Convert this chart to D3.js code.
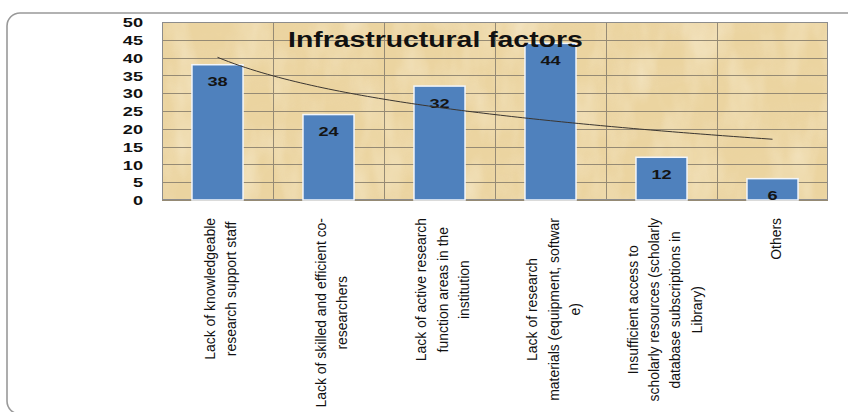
<!DOCTYPE html>
<html>
<head>
<meta charset="utf-8">
<script src="https://cdn.jsdelivr.net/npm/d3@7"></script>
<style>
  html, body { margin: 0; padding: 0; background: #ffffff; }
  svg { display: block; }
</style>
</head>
<body>
<div id="chart"></div>
<script>
// ---- data ----
const categoryLines = [
  ["Lack of knowledgeable", "research support staff"],
  ["Lack of skilled and efficient co-", "researchers"],
  ["Lack of active research", "function areas in the", "institution"],
  ["Lack of research", "materials (equipment, softwar", "e)"],
  ["Insufficient access to", "scholarly resources (scholarly", "database subscriptions in", "Library)"],
  ["Others"]
];
const values = [38, 24, 32, 44, 12, 6];
const yTickValues = [0, 5, 10, 15, 20, 25, 30, 35, 40, 45, 50];
const chartTitle = "Infrastructural factors";

// ---- layout ----
const W = 848, H = 412;
const plot = { left: 162, right: 828, top: 22, bottom: 200 };
const SX = 1.4;      // horizontal stretch of bold numbers
const TSX = 1.29;    // horizontal stretch of title

const svg = d3.select("#chart").append("svg")
  .attr("width", W).attr("height", H);

const defs = svg.append("defs");
const f1 = defs.append("filter").attr("id", "blotch")
  .attr("x", 0).attr("y", 0).attr("width", "100%").attr("height", "100%");
f1.append("feTurbulence").attr("type", "fractalNoise")
  .attr("baseFrequency", "0.012 0.045").attr("numOctaves", 4).attr("seed", 7);
f1.append("feColorMatrix").attr("type", "matrix")
  .attr("values", "0 0 0 0 0.84  0 0 0 0 0.68  0 0 0 0 0.42  0 0 0 1.3 -0.55");
const f2 = defs.append("filter").attr("id", "light")
  .attr("x", 0).attr("y", 0).attr("width", "100%").attr("height", "100%");
f2.append("feTurbulence").attr("type", "fractalNoise")
  .attr("baseFrequency", "0.035 0.015").attr("numOctaves", 3).attr("seed", 11);
f2.append("feColorMatrix").attr("type", "matrix")
  .attr("values", "0 0 0 0 0.98  0 0 0 0 0.93  0 0 0 0 0.80  0 0 0 1.4 -0.55");

// outer frame
svg.append("rect")
  .attr("x", 7).attr("y", 13).attr("width", 870).attr("height", 401)
  .attr("rx", 13).attr("ry", 13)
  .attr("fill", "none").attr("stroke", "#999999").attr("stroke-width", 1.6);

// scales
const x = d3.scaleBand()
  .domain(d3.range(values.length))
  .range([plot.left, plot.right])
  .paddingInner(0.54).paddingOuter(0.27);
const step = x.step();
const y = d3.scaleLinear().domain([0, 50]).range([plot.bottom, plot.top]);

// plot background (papyrus-like)
const pw = plot.right - plot.left, ph = plot.bottom - plot.top;
svg.append("rect").attr("x", plot.left).attr("y", plot.top)
  .attr("width", pw).attr("height", ph).attr("fill", "#EBD4A0");
svg.append("rect").attr("x", plot.left).attr("y", plot.top)
  .attr("width", pw).attr("height", ph).attr("filter", "url(#blotch)").attr("opacity", 0.5);
svg.append("rect").attr("x", plot.left).attr("y", plot.top)
  .attr("width", pw).attr("height", ph).attr("filter", "url(#light)").attr("opacity", 0.55);

// gridlines
const grid = svg.append("g").attr("stroke", "#958a74").attr("stroke-width", 1);
grid.selectAll("line.h").data(yTickValues).join("line")
  .attr("class", "h")
  .attr("x1", plot.left).attr("x2", plot.right)
  .attr("y1", d => Math.round(y(d)) + 0.5).attr("y2", d => Math.round(y(d)) + 0.5);
grid.selectAll("line.v").data(d3.range(1, values.length)).join("line")
  .attr("class", "v")
  .attr("x1", i => Math.round(plot.left + i * step) + 0.5)
  .attr("x2", i => Math.round(plot.left + i * step) + 0.5)
  .attr("y1", plot.top).attr("y2", plot.bottom);

// plot border
svg.append("rect").attr("x", plot.left + 0.5).attr("y", plot.top + 0.5)
  .attr("width", pw - 1).attr("height", ph - 1)
  .attr("fill", "none").attr("stroke", "#8c8c8c").attr("stroke-width", 1);

// bars
svg.append("g").selectAll("rect").data(values).join("rect")
  .attr("x", (d, i) => x(i))
  .attr("y", d => y(d))
  .attr("width", x.bandwidth())
  .attr("height", d => y(0) - y(d))
  .attr("fill", "#4F81BD")
  .attr("stroke", "#f2f6fb").attr("stroke-width", 1.5);

// data labels
svg.append("g").selectAll("text").data(values).join("text")
  .attr("transform", (d, i) => `translate(${x(i) + x.bandwidth() / 2},${y(d) + 21.5}) scale(${SX},1)`)
  .attr("text-anchor", "middle")
  .attr("font-family", "'Liberation Sans', Arial, sans-serif")
  .attr("font-weight", "bold").attr("font-size", 13)
  .attr("fill", "#141414")
  .text(d => d);

// logarithmic trendline computed from the values
const lx = values.map((d, i) => Math.log(i + 1));
const mx = d3.mean(lx), my = d3.mean(values);
const b = d3.sum(lx, (v, i) => (v - mx) * (values[i] - my)) / d3.sum(lx, v => (v - mx) * (v - mx));
const a = my - b * mx;
const trendPts = d3.range(0, 5.001, 0.05).map(t => [t, a + b * Math.log(t + 1)]);
const xc = t => plot.left + step * (t + 0.5);
svg.append("path")
  .attr("d", d3.line().x(p => xc(p[0])).y(p => y(p[1])).curve(d3.curveLinear)(trendPts))
  .attr("fill", "none").attr("stroke", "#3a3530").attr("stroke-width", 1);

// y axis
const yAxis = svg.append("g")
  .attr("transform", `translate(143,0)`)
  .call(d3.axisLeft(y).tickValues(yTickValues).tickSize(0).tickPadding(0));
yAxis.select(".domain").remove();
yAxis.selectAll("text")
  .attr("x", 0).attr("dy", "0.36em")
  .attr("transform", `scale(${SX},1)`)
  .attr("text-anchor", "end")
  .attr("font-family", "'Liberation Sans', Arial, sans-serif")
  .attr("font-weight", "bold").attr("font-size", 13)
  .attr("fill", "#111");

// title
svg.append("text")
  .attr("transform", `translate(288,46.5) scale(${TSX},1)`)
  .attr("font-family", "'Liberation Sans', Arial, sans-serif")
  .attr("font-weight", "bold").attr("font-size", 22)
  .attr("fill", "#111")
  .text(chartTitle);

// x category labels (rotated, wrapped, centered lines, top-anchored)
const pitch = 21.5;
const labTop = 218;
const along = 0.93;
categoryLines.forEach((lines, i) => {
  const cx = x(i) + x.bandwidth() / 2 + 3;
  const g = svg.append("g").attr("transform", `translate(${cx},${labTop}) rotate(-90) scale(${along},1)`);
  const n = lines.length;
  const texts = lines.map((ln, k) => g.append("text")
    .attr("y", (k - (n - 1) / 2) * pitch)
    .attr("dy", "0.35em")
    .attr("text-anchor", "middle")
    .attr("font-family", "'Liberation Sans', Arial, sans-serif")
    .attr("font-size", 15)
    .attr("fill", "#111")
    .text(ln));
  const maxLen = d3.max(texts, t => t.node().getComputedTextLength());
  texts.forEach(t => t.attr("x", -maxLen / 2));
});
</script>
</body>
</html>
